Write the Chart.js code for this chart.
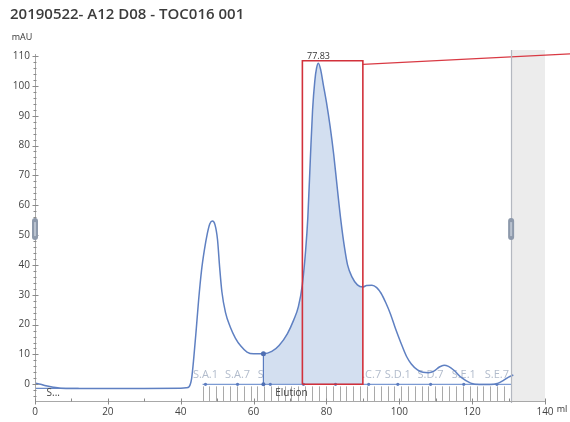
<!DOCTYPE html>
<html><head><meta charset="utf-8">
<script src="https://cdn.jsdelivr.net/npm/chart.js@4/dist/chart.umd.min.js"></script>
<style>html,body{margin:0;padding:0;background:#fff;}#wrap{width:570px;height:422px;}</style>
</head><body><div id="wrap"><canvas id="c" width="570" height="422"></canvas></div>
<script>
const chartTitle = '20190522- A12 D08 - TOC016 001';
const yUnit = 'mAU';
const xUnit = 'ml';

// UV trace (ml, mAU)
const uvVolume = [0, 1.5, 3, 5, 7, 15, 30, 40, 41.5, 42.3, 43, 43.6, 44.3, 44.9, 45.7, 46.5, 47.3, 48, 48.7, 49.4, 50.1, 50.7, 51.3, 52.3, 53.6, 55, 56.5, 58.2, 60, 62.7, 65, 67, 69.3, 71, 72.3, 73.4, 74.3, 74.9, 75.6, 76.2, 76.8, 77.3, 77.8, 78.4, 79.2, 80, 81, 82, 83, 84, 85, 85.8, 87, 88.5, 90, 91, 92.5, 93.8, 95, 96.3, 97.6, 99, 100.4, 102, 103.3, 105, 106.5, 108, 109.5, 111, 112.3, 113.5, 115, 117, 119.6, 122, 125, 127, 128.5, 130, 131.3];
const uvValue  = [0.4, 0.0, -0.5, -1.0, -1.3, -1.4, -1.4, -1.3, -1.2, -0.8, 2, 9, 19, 28, 38, 45, 50.5, 53.8, 54.7, 53.5, 48.5, 39, 31, 24, 19.2, 15.5, 12.8, 10.8, 10.2, 10.2, 11, 13, 17, 21.5, 26, 33.5, 45, 56, 76, 92, 101.5, 106, 107.6, 105.5, 100, 94.5, 86.5, 77, 65.5, 54.5, 45.5, 40, 36, 33.3, 32.6, 33.1, 33.2, 32.4, 30.5, 27.3, 23.5, 18.5, 14, 9.3, 6.8, 4.8, 4, 3.9, 4.4, 5.8, 6.4, 6.0, 4.7, 2.3, 0.4, -0.1, -0.1, 0.3, 1.2, 2.4, 3.1];

const peakVolume = 77.83;
const peakLabel = '77.83';

// fractions
const fractionNames  = ['S.A.1', 'S.A.7', 'S.B.1', 'S.B.7', 'S.C.1', 'S.C.7', 'S.D.1', 'S.D.7', 'S.E.1', 'S.E.7'];
const fractionVolume = [46.8, 55.6, 64.6, 73.7, 82.5, 91.6, 99.6, 108.6, 117.7, 126.8];
const combVolume = [46.0, 47.9, 49.8, 51.6, 53.5, 55.4, 57.3, 59.2, 61.0, 62.9, 64.8, 66.7, 68.6, 70.4, 72.3, 74.2, 76.1, 78.0, 79.8, 81.7, 83.6, 85.5, 87.4, 89.2, 91.1, 93.0, 94.9, 96.8, 98.6, 100.5, 102.4, 104.3, 106.2, 108.0, 109.9, 111.8, 113.7, 115.6, 117.4, 119.3, 121.2, 123.1, 125.0, 126.8, 128.7, 130.6];
const fractionStart = 46;
const fractionEnd = 130.7;
const injectionLine = [0, 12];
const injectionLevel = -1.4;

// pooled / selected region
const poolStart = 62.7;
const poolEnd = 90;
const boxLeft = 73.4;
const boxRight = 90;
const boxTop = 108.4;
const leaderStart = 107.2;
const leaderEndX = 150;
const leaderEndY = 110.9;

const grayStart = 130.7;
const handleLevel = 52;
const markerTexts = ['S...', 'Elution'];
const markerVolume = [5, 70.4];
const markerLevel = -3;

const xTicks = [0, 20, 40, 60, 80, 100, 120, 140];
const yTicks = [0, 10, 20, 30, 40, 50, 60, 70, 80, 90, 100, 110];

const pts = (xs, ys) => xs.map((v, i) => ({x: v, y: ys[i]}));
const uvPoints = pts(uvVolume, uvValue);
const poolPoints = uvPoints.filter(p => p.x >= poolStart && p.x <= poolEnd);
const valleyValue = uvValue[uvVolume.indexOf(poolStart)];

const FONT = "'Open Sans', 'Noto Sans', sans-serif";

const decor = {
  id: 'decor',
  beforeDatasetsDraw(chart) {
    const {ctx, chartArea: a, scales: {x, y}} = chart;
    ctx.save();
    const gx = x.getPixelForValue(grayStart);
    ctx.fillStyle = '#ececec';
    ctx.fillRect(gx, a.top, a.right - gx, a.bottom - a.top);
    // comb
    ctx.strokeStyle = '#a9a9a9'; ctx.lineWidth = 1;
    const cTop = y.getPixelForValue(-0.7);
    combVolume.forEach(v => {
      const px = Math.round(x.getPixelForValue(v)) + 0.5;
      ctx.beginPath(); ctx.moveTo(px, cTop); ctx.lineTo(px, a.bottom); ctx.stroke();
    });
    // fraction labels
    ctx.fillStyle = '#b2bccc';
    ctx.font = '11px ' + FONT;
    ctx.textAlign = 'center'; ctx.textBaseline = 'middle';
    fractionNames.forEach((n, i) => ctx.fillText(n, x.getPixelForValue(fractionVolume[i]), y.getPixelForValue(3)));
    ctx.restore();
  },
  afterDraw(chart) {
    const {ctx, chartArea: a, scales: {x, y}} = chart;
    ctx.save();
    const gx = Math.round(x.getPixelForValue(grayStart)) + 0.5;
    ctx.strokeStyle = '#b4b8c0'; ctx.lineWidth = 1.2;
    ctx.beginPath(); ctx.moveTo(gx, a.top); ctx.lineTo(gx, a.bottom + 2); ctx.stroke();
    // axes
    ctx.strokeStyle = '#a8a8a8'; ctx.lineWidth = 1;
    const ax = Math.round(a.left) + 0.5, ay = Math.round(a.bottom) + 0.5;
    ctx.beginPath(); ctx.moveTo(ax, a.top + 4); ctx.lineTo(ax, ay); ctx.lineTo(a.right, ay); ctx.stroke();
    ctx.strokeStyle = '#8a8a8a';
    for (let v = -4; v <= 110; v += 2) {
      const py = Math.round(y.getPixelForValue(v)) + 0.5;
      const major = v % 10 === 0;
      ctx.beginPath(); ctx.moveTo(ax - (major ? 3 : 2), py); ctx.lineTo(ax + (major ? 3 : 1), py); ctx.stroke();
    }
    for (let v = 0; v <= 140; v += 10) {
      const px = Math.round(x.getPixelForValue(v)) + 0.5;
      const major = v % 20 === 0;
      ctx.beginPath(); ctx.moveTo(px, ay - 3); ctx.lineTo(px, ay + (major ? 3 : 0)); ctx.stroke();
    }
    // handles
    [0, grayStart].forEach(v => {
      const px = x.getPixelForValue(v), py = y.getPixelForValue(handleLevel);
      ctx.fillStyle = '#8d99ab';
      ctx.beginPath(); ctx.roundRect(px - 3, py - 11, 6, 22, 3); ctx.fill();
      ctx.fillStyle = '#b9c2cf';
      ctx.fillRect(px - 1, py - 7, 2, 14);
    });
    // texts
    ctx.fillStyle = '#333';
    ctx.textAlign = 'center'; ctx.textBaseline = 'middle';
    ctx.font = '9px ' + FONT;
    ctx.fillText(peakLabel, x.getPixelForValue(peakVolume), y.getPixelForValue(boxTop) - 4);
    ctx.fillText(yUnit, a.left - 13, a.top - 13);
    ctx.fillText(xUnit, a.right + 17, a.bottom + 8);
    ctx.font = '10px ' + FONT;
    ctx.fillStyle = '#444';
    markerTexts.forEach((t, i) => ctx.fillText(t, x.getPixelForValue(markerVolume[i]), y.getPixelForValue(markerLevel)));
    ctx.restore();
  }
};

new Chart(document.getElementById('c'), {
  type: 'line',
  data: {
    datasets: [
      { data: [{x: boxLeft, y: 0}, {x: boxLeft, y: boxTop}, {x: boxRight, y: boxTop}, {x: boxRight, y: 0}, {x: boxLeft, y: 0}],
        borderColor: '#d2313b', borderWidth: 1.6, pointRadius: 0, tension: 0, fill: false, order: 1 },
      { data: [{x: boxRight, y: leaderStart}, {x: leaderEndX, y: leaderEndY}],
        borderColor: '#d93a44', borderWidth: 1.3, pointRadius: 0, tension: 0, fill: false, clip: false, order: 1 },
      { data: [{x: poolStart, y: valleyValue}, {x: poolStart, y: 0}],
        borderColor: '#5a7cc0', borderWidth: 1.2, pointRadius: [2.5, 2], pointBackgroundColor: '#4f6fb3', pointBorderWidth: 0, tension: 0, fill: false, order: 3 },
      { data: uvPoints, borderColor: '#5f80c2', borderWidth: 1.5, pointRadius: 0, cubicInterpolationMode: 'monotone', fill: false, order: 5 },
      { data: [{x: injectionLine[0], y: injectionLevel}, {x: injectionLine[1], y: injectionLevel}],
        borderColor: '#6a8ac8', borderWidth: 1.2, pointRadius: 0, fill: false, order: 6 },
      { data: fractionVolume.map(v => ({x: v, y: 0})), showLine: false, pointRadius: 1.6, pointBackgroundColor: '#5d7dbf', pointBorderWidth: 0, order: 7 },
      { data: [{x: fractionStart, y: 0}, {x: fractionEnd, y: 0}],
        borderColor: '#7d9bd3', borderWidth: 1.2, pointRadius: 0, fill: false, order: 8 },
      { data: poolPoints, borderWidth: 0, borderColor: 'rgba(0,0,0,0)', backgroundColor: '#d3dff0', pointRadius: 0, cubicInterpolationMode: 'monotone', fill: 'origin', order: 10 }
    ]
  },
  options: {
    responsive: false, animation: false, devicePixelRatio: 1,
    layout: { padding: { left: 10, right: 25, top: 0, bottom: 0 } },
    plugins: {
      legend: { display: false }, tooltip: { enabled: false },
      title: { display: true, text: chartTitle, align: 'start', color: '#3c3c3c',
        font: { family: FONT, size: 15, weight: '600' }, padding: { top: 6, bottom: 26 } }
    },
    scales: {
      x: { type: 'linear', min: 0, max: 140,
        afterFit: s => { s.height = 21; },
        afterBuildTicks: s => { s.ticks = xTicks.map(v => ({value: v})); },
        grid: { display: false, drawTicks: false }, border: { display: false },
        ticks: { padding: 5, color: '#444', font: { family: FONT, size: 10 }, maxRotation: 0 } },
      y: { type: 'linear', min: -5.6, max: 112,
        afterFit: s => { s.width = 25; },
        afterBuildTicks: s => { s.ticks = yTicks.map(v => ({value: v})); },
        grid: { display: false, drawTicks: false }, border: { display: false },
        ticks: { padding: 5, color: '#444', font: { family: FONT, size: 10 } } }
    }
  },
  plugins: [decor]
});
</script></body></html>
